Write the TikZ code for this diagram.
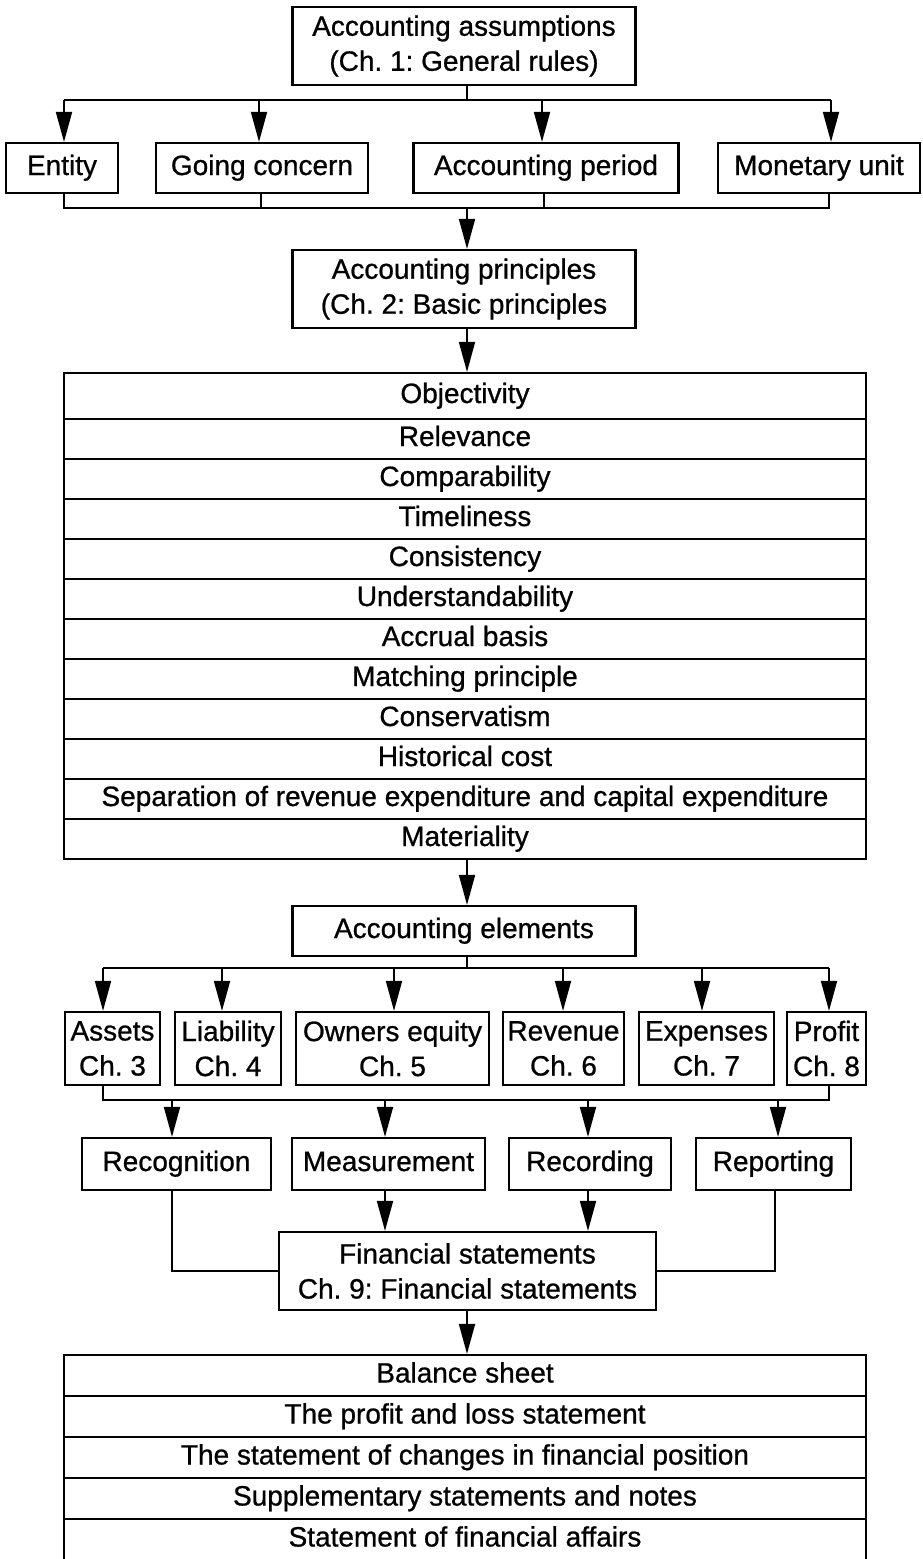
\documentclass[tikz,border=0pt]{standalone}
\usepackage{fontspec}
\newfontfamily\diagfont[FakeBold=0.8]{Liberation Sans}
\usetikzlibrary{arrows.meta}
\def\principlelist{Relevance, Comparability, Timeliness, Consistency,
  Understandability, Accrual basis, Matching principle, Conservatism,
  Historical cost, Separation of revenue expenditure and capital expenditure,
  Materiality}
\def\statementlist{Balance sheet, The profit and loss statement,
  The statement of changes in financial position,
  Supplementary statements and notes, Statement of financial affairs}

\begin{document}
\frenchspacing
\begin{tikzpicture}[x=1pt, y=-1pt,
    box/.style={draw, line width=2.2pt, inner sep=0pt, align=center,
      font=\diagfont\fontsize{28}{35}\selectfont},
    onebox/.style={box, text height=20pt, text depth=6pt},
    listrow/.style={onebox, minimum width=802pt, minimum height=#1},
    link/.style={line width=1.8pt},
    arr/.style={line width=1.8pt, -{Triangle[length=30pt,width=16pt]}}]
  \useasboundingbox (0,0) rectangle (923,1559);
  \coordinate (spine) at (467,0);

  % assumptions
  \node[box, minimum width=343pt, minimum height=78pt] (assump) at (464,46)
    {Accounting assumptions\\(Ch. 1: General rules)};
  \node[onebox, minimum width=112pt, minimum height=50pt] (entity) at (62,168) {Entity};
  \node[onebox, minimum width=212pt, minimum height=50pt] (going) at (262,168) {Going concern};
  \node[onebox, minimum width=265pt, minimum height=50pt] (period) at (546,168) {Accounting period};
  \node[onebox, minimum width=202pt, minimum height=50pt] (money) at (819,168) {Monetary unit};

  \coordinate (t1) at (64,100);
  \coordinate (t2) at (259,100);
  \coordinate (t3) at (542,100);
  \coordinate (t4) at (831,100);
  \draw[link] (assump.south -| spine) -- (t1 -| spine);
  \draw[link] (t1) -- (t4);
  \draw[arr] (t1) -- (t1 |- entity.north);
  \draw[arr] (t2) -- (t2 |- going.north);
  \draw[arr] (t3) -- (t3 |- period.north);
  \draw[arr] (t4) -- (t4 |- money.north);

  \coordinate (u1) at (64,208);
  \coordinate (u2) at (261,208);
  \coordinate (u3) at (544,208);
  \coordinate (u4) at (829,208);
  \draw[link] (u1 |- entity.south) -- (u1) -- (u4) -- (u4 |- money.south);
  \draw[link] (u2 |- going.south) -- (u2);
  \draw[link] (u3 |- period.south) -- (u3);

  % principles
  \node[box, minimum width=343pt, minimum height=78pt] (princ) at (464,289)
    {Accounting principles\\(Ch. 2: Basic principles};
  \draw[arr] (u1 -| spine) -- (princ.north -| spine);
  \node[listrow=46pt] (p1) at (465,396) {Objectivity};
  \foreach \t [count=\i from 2] in \principlelist
    \node[listrow=40pt] (p\i) at (465,{419+40*(\i-1.5)}) {\t};
  \draw[arr] (princ.south -| spine) -- (p1.north -| spine);

  % elements
  \node[onebox, minimum width=343pt, minimum height=50pt] (elem) at (464,931)
    {Accounting elements};
  \draw[arr] (p12.south -| spine) -- (elem.north -| spine);

  \node[box, minimum width=95pt, minimum height=73pt] (assets) at (112.5,1048.5) {Assets\\Ch. 3};
  \node[box, minimum width=106pt, minimum height=73pt] (liab) at (228,1048.5) {Liability\\Ch. 4};
  \node[box, minimum width=193pt, minimum height=73pt] (owners) at (392.5,1048.5) {Owners equity\\Ch. 5};
  \node[box, minimum width=121pt, minimum height=73pt] (revenue) at (563.5,1048.5) {Revenue\\Ch. 6};
  \node[box, minimum width=135pt, minimum height=73pt] (expenses) at (706.5,1048.5) {Expenses\\Ch. 7};
  \node[box, minimum width=79pt, minimum height=73pt] (profit) at (826.5,1048.5) {Profit\\Ch. 8};

  \coordinate (e1) at (103,968);
  \coordinate (e2) at (222,968);
  \coordinate (e3) at (394,968);
  \coordinate (e4) at (563,968);
  \coordinate (e5) at (702,968);
  \coordinate (e6) at (829,968);
  \draw[link] (elem.south -| spine) -- (e1 -| spine);
  \draw[link] (e1) -- (e6);
  \draw[arr] (e1) -- (e1 |- assets.north);
  \draw[arr] (e2) -- (e2 |- liab.north);
  \draw[arr] (e3) -- (e3 |- owners.north);
  \draw[arr] (e4) -- (e4 |- revenue.north);
  \draw[arr] (e5) -- (e5 |- expenses.north);
  \draw[arr] (e6) -- (e6 |- profit.north);

  % recognition ... reporting
  \node[onebox, minimum width=189pt, minimum height=52pt] (recog) at (176.5,1164) {Recognition};
  \node[onebox, minimum width=193pt, minimum height=52pt] (meas) at (388.5,1164) {Measurement};
  \node[onebox, minimum width=162pt, minimum height=52pt] (record) at (590,1164) {Recording};
  \node[onebox, minimum width=155pt, minimum height=52pt] (report) at (773.5,1164) {Reporting};

  \coordinate (v1) at (103,1100);
  \coordinate (v2) at (829,1100);
  \draw[link] (v1 |- assets.south) -- (v1) -- (v2) -- (v2 |- profit.south);
  \draw[arr] (172,1100) -- (172,1100 |- recog.north);
  \draw[arr] (385,1100) -- (385,1100 |- meas.north);
  \draw[arr] (588,1100) -- (588,1100 |- record.north);
  \draw[arr] (778,1100) -- (778,1100 |- report.north);

  % financial statements
  \node[box, minimum width=377pt, minimum height=78pt] (fs) at (467.5,1271)
    {Financial statements\\Ch. 9: Financial statements};
  \draw[arr] (385,1190) -- (385,1190 |- fs.north);
  \draw[arr] (588,1190) -- (588,1190 |- fs.north);
  \draw[link] (recog.south -| 172,0) |- (fs.west);
  \draw[link] (report.south -| 775,0) |- (fs.east);

  \foreach \t [count=\i] in \statementlist
    \node[listrow=41pt] (s\i) at (465,{1355+41*(\i-0.5)}) {\t};
  \draw[arr] (fs.south -| spine) -- (s1.north -| spine);
\end{tikzpicture}
\end{document}
